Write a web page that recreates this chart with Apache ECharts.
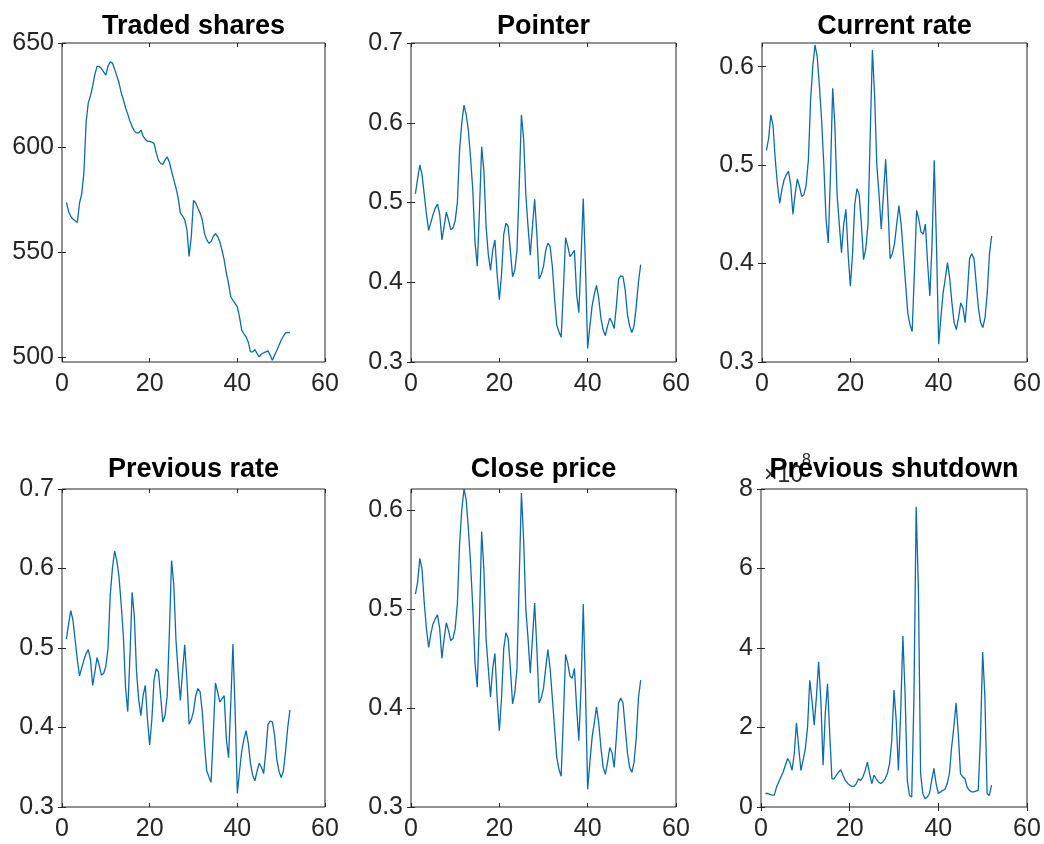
<!DOCTYPE html>
<html>
<head>
<meta charset="utf-8">
<title>subplots</title>
<script src="https://cdn.jsdelivr.net/npm/echarts@6/dist/echarts.min.js"></script>
<style>
html, body { margin: 0; padding: 0; background: #fff; }
#main { width: 1044px; height: 844px; }
</style>
</head>
<body>
<div id="main"></div>
<script>
// data, samples at x = 1, 1.5, 2, ... 52
var titles = ['Traded shares', 'Pointer', 'Current rate', 'Previous rate', 'Close price', 'Previous shutdown'];
var xTicks = [0, 20, 40, 60];
var tradedTicks = [500, 550, 600, 650];
var rateTicks = [0.3, 0.4, 0.5, 0.6, 0.7];
var rateTicksShort = [0.3, 0.4, 0.5, 0.6];
var shutdownTicks = [0, 2, 4, 6, 8];

var tradedShares = [
    573.8, 569.5, 567.1, 565.8, 565, 564.2, 573.5, 578, 588, 612,
    621.5, 624.7, 629.5, 635, 638.8, 638.8, 637.8, 636.2, 634.6, 639,
    641, 640.4, 637.5, 634.3, 631, 626.3, 623, 619, 616, 612.7,
    610, 608, 607, 607, 608.4, 605.5, 604, 603, 603, 602.6,
    602, 597.5, 594, 592.4, 592, 594, 595.6, 593, 588.7, 584.7,
    580.7, 576, 568.7, 567.4, 565.5, 560.7, 548, 557.5, 574.8, 573.5,
    571, 568.7, 565.5, 559, 556, 554.3, 555, 557.5, 558.8, 557.5,
    555, 551, 546.3, 540, 535, 528.7, 527, 525.5, 523.9, 519,
    512.7, 511, 509.5, 507, 502.3, 502.3, 503.5, 501.5, 500, 501.2,
    501.9, 502.3, 502.8, 500.7, 498.3, 500.7, 503, 505.5, 507.9, 509.8,
    511.4, 511.7, 511.4
];

var pointer = [
    0.511, 0.53, 0.547, 0.535, 0.51, 0.485, 0.465, 0.475, 0.485, 0.493,
    0.498, 0.485, 0.453, 0.47, 0.488, 0.478, 0.466, 0.468, 0.477, 0.5,
    0.566, 0.6, 0.622, 0.61, 0.59, 0.555, 0.515, 0.45, 0.42, 0.49,
    0.57, 0.54, 0.47, 0.435, 0.415, 0.44, 0.453, 0.41, 0.378, 0.41,
    0.46, 0.474, 0.47, 0.44, 0.407, 0.415, 0.44, 0.52, 0.61, 0.58,
    0.51, 0.47, 0.434, 0.47, 0.504, 0.46, 0.404, 0.41, 0.42, 0.44,
    0.449, 0.445, 0.42, 0.38, 0.346, 0.338, 0.331, 0.39, 0.456, 0.445,
    0.432, 0.436, 0.44, 0.385, 0.362, 0.43, 0.505, 0.42, 0.317, 0.345,
    0.37, 0.385, 0.396, 0.38, 0.355, 0.34, 0.333, 0.345, 0.355, 0.35,
    0.342, 0.37, 0.404, 0.408, 0.407, 0.39, 0.36, 0.345, 0.337, 0.345,
    0.37, 0.4, 0.422
];

var currentRate = [
    0.515, 0.527, 0.551, 0.54, 0.506, 0.48, 0.461, 0.475, 0.485, 0.49,
    0.494, 0.48, 0.45, 0.47, 0.486, 0.478, 0.468, 0.47, 0.48, 0.505,
    0.566, 0.6, 0.622, 0.61, 0.58, 0.545, 0.5, 0.445, 0.421, 0.49,
    0.578, 0.54, 0.47, 0.44, 0.411, 0.44, 0.455, 0.41, 0.377, 0.41,
    0.46, 0.476, 0.47, 0.44, 0.404, 0.415, 0.44, 0.53, 0.617, 0.57,
    0.5, 0.47, 0.435, 0.47, 0.506, 0.46, 0.405, 0.41, 0.42, 0.44,
    0.459, 0.44, 0.41, 0.38, 0.35, 0.338, 0.331, 0.39, 0.454, 0.445,
    0.432, 0.43, 0.44, 0.4, 0.367, 0.42, 0.505, 0.42, 0.318, 0.345,
    0.37, 0.385, 0.401, 0.385, 0.36, 0.34, 0.333, 0.345, 0.36, 0.355,
    0.34, 0.37, 0.405, 0.41, 0.405, 0.38, 0.355, 0.34, 0.335, 0.345,
    0.37, 0.41, 0.428
];

var previousRate = [
    0.511, 0.53, 0.547, 0.535, 0.51, 0.485, 0.465, 0.475, 0.485, 0.493,
    0.498, 0.485, 0.453, 0.47, 0.488, 0.478, 0.466, 0.468, 0.477, 0.5,
    0.566, 0.6, 0.622, 0.61, 0.59, 0.555, 0.515, 0.45, 0.42, 0.49,
    0.57, 0.54, 0.47, 0.435, 0.415, 0.44, 0.453, 0.41, 0.378, 0.41,
    0.46, 0.474, 0.47, 0.44, 0.407, 0.415, 0.44, 0.52, 0.61, 0.58,
    0.51, 0.47, 0.434, 0.47, 0.504, 0.46, 0.404, 0.41, 0.42, 0.44,
    0.449, 0.445, 0.42, 0.38, 0.346, 0.338, 0.331, 0.39, 0.456, 0.445,
    0.432, 0.436, 0.44, 0.385, 0.362, 0.43, 0.505, 0.42, 0.317, 0.345,
    0.37, 0.385, 0.396, 0.38, 0.355, 0.34, 0.333, 0.345, 0.355, 0.35,
    0.342, 0.37, 0.404, 0.408, 0.407, 0.39, 0.36, 0.345, 0.337, 0.345,
    0.37, 0.4, 0.422
];

var closePrice = [
    0.515, 0.527, 0.551, 0.54, 0.506, 0.48, 0.461, 0.475, 0.485, 0.49,
    0.494, 0.48, 0.45, 0.47, 0.486, 0.478, 0.468, 0.47, 0.48, 0.505,
    0.566, 0.6, 0.621, 0.61, 0.58, 0.545, 0.5, 0.445, 0.421, 0.49,
    0.578, 0.54, 0.47, 0.44, 0.411, 0.44, 0.455, 0.41, 0.377, 0.41,
    0.46, 0.476, 0.47, 0.44, 0.404, 0.415, 0.44, 0.53, 0.617, 0.57,
    0.5, 0.47, 0.435, 0.47, 0.506, 0.46, 0.405, 0.41, 0.42, 0.44,
    0.459, 0.44, 0.41, 0.38, 0.35, 0.338, 0.331, 0.39, 0.454, 0.445,
    0.432, 0.43, 0.44, 0.4, 0.367, 0.42, 0.505, 0.42, 0.318, 0.345,
    0.37, 0.385, 0.401, 0.385, 0.36, 0.34, 0.333, 0.345, 0.36, 0.355,
    0.34, 0.37, 0.405, 0.41, 0.405, 0.38, 0.355, 0.34, 0.335, 0.345,
    0.37, 0.41, 0.428
];

// in units of 10^8
var previousShutdown = [
    0.34, 0.34, 0.32, 0.3, 0.3, 0.5, 0.63, 0.76, 0.88, 1.05,
    1.22, 1.13, 0.92, 1.34, 2.12, 1.51, 0.92, 1.18, 1.47, 2.0,
    3.19, 2.69, 2.06, 2.77, 3.65, 2.69, 1.05, 2.35, 3.1, 1.85,
    0.71, 0.71, 0.8, 0.88, 0.94, 0.8, 0.67, 0.6, 0.55, 0.52,
    0.52, 0.59, 0.71, 0.67, 0.76, 0.92, 1.13, 0.84, 0.59, 0.8,
    0.71, 0.63, 0.59, 0.63, 0.71, 0.84, 1.09, 1.68, 2.94, 2.18,
    0.92, 2.35, 4.3, 2.85, 0.67, 0.29, 0.25, 2.77, 7.55, 5.5,
    0.84, 0.34, 0.21, 0.25, 0.34, 0.67, 0.97, 0.59, 0.34, 0.38,
    0.42, 0.44, 0.59, 0.84, 1.51, 2.02, 2.62, 1.85, 0.84, 0.76,
    0.71, 0.5, 0.42, 0.38, 0.38, 0.4, 0.42, 1.76, 3.9, 2.77,
    0.34, 0.29, 0.55
];

var sampleX = [];
for (var i = 0; i < tradedShares.length; i++) {
    sampleX.push(1 + i * 0.5);
}

var myChart = echarts.init(document.getElementById('main'));

var fontFamily = '"Liberation Sans", Arial, Helvetica, sans-serif';
var axisColor = '#262626';
var lineColor = '#0a6cad';

var panels = [
    {data: tradedShares, ticks: tradedTicks, min: 497.5, max: 650, left: 62, top: 43, width: 263, height: 319, titleTop: 13},
    {data: pointer, ticks: rateTicks, min: 0.3, max: 0.7, left: 411, top: 43, width: 265, height: 319, titleTop: 13},
    {data: currentRate, ticks: rateTicksShort, min: 0.3, max: 0.624, left: 762, top: 43, width: 265, height: 319, titleTop: 13},
    {data: previousRate, ticks: rateTicks, min: 0.3, max: 0.7, left: 62, top: 489, width: 263, height: 318, titleTop: 456},
    {data: closePrice, ticks: rateTicksShort, min: 0.3, max: 0.621, left: 411, top: 489, width: 265, height: 318, titleTop: 456},
    {data: previousShutdown, ticks: shutdownTicks, min: 0, max: 8, left: 761, top: 489, width: 266, height: 318, titleTop: 456}
];

var option = {
    backgroundColor: '#fff',
    animation: false,
    title: [],
    grid: [],
    xAxis: [],
    yAxis: [],
    series: [],
    graphic: [
        {type: 'text', left: 764, top: 464, z: 0, style: {text: '×10', fontSize: 23, fill: axisColor, fontFamily: fontFamily}},
        {type: 'text', left: 802, top: 453, z: 0, style: {text: '8', fontSize: 16, fill: axisColor, fontFamily: fontFamily}}
    ]
};

panels.forEach(function (p, k) {
    option.title.push({
        text: titles[k],
        left: p.left + p.width / 2,
        top: p.titleTop,
        textAlign: 'center',
        padding: 0,
        z: 10,
        textStyle: {fontSize: 27, fontWeight: 'bold', color: '#000', fontFamily: fontFamily}
    });
    option.grid.push({
        left: p.left, top: p.top, width: p.width, height: p.height,
        show: true, borderColor: axisColor, borderWidth: 1, backgroundColor: '#fff'
    });
    // bottom + top x axes
    ['bottom', 'top'].forEach(function (pos) {
        option.xAxis.push({
            gridIndex: k,
            type: 'value',
            position: pos,
            min: 0,
            max: 60,
            axisLine: {show: false},
            splitLine: {show: false},
            axisTick: {show: true, inside: true, length: 4, customValues: xTicks, lineStyle: {color: axisColor}},
            axisLabel: {
                show: pos === 'bottom', customValues: xTicks, margin: 10,
                fontSize: 25, color: axisColor, fontFamily: fontFamily
            }
        });
    });
    // left + right y axes
    ['left', 'right'].forEach(function (pos) {
        option.yAxis.push({
            gridIndex: k,
            type: 'value',
            position: pos,
            min: p.min,
            max: p.max,
            axisLine: {show: false},
            splitLine: {show: false},
            axisTick: {show: true, inside: true, length: 4, customValues: p.ticks, lineStyle: {color: axisColor}},
            axisLabel: {
                show: pos === 'left', customValues: p.ticks, margin: 8,
                fontSize: 25, color: axisColor, fontFamily: fontFamily
            }
        });
    });
    option.series.push({
        type: 'line',
        xAxisIndex: 2 * k,
        yAxisIndex: 2 * k,
        showSymbol: false,
        symbol: 'none',
        lineStyle: {color: lineColor, width: 1.3},
        data: sampleX.map(function (x, j) { return [x, p.data[j]]; })
    });
});

myChart.setOption(option);
</script>
</body>
</html>
